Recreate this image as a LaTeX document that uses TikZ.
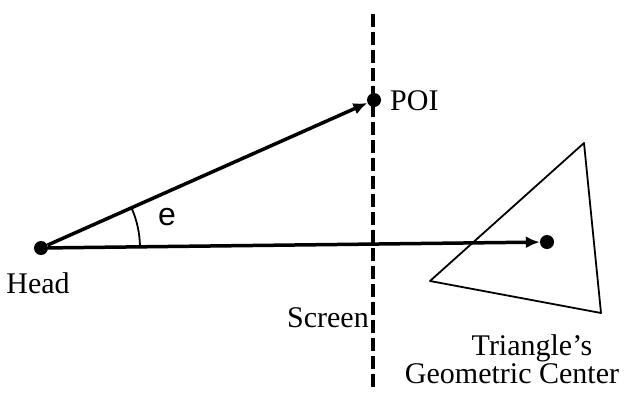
\documentclass[tikz,border=0pt]{standalone}
\usepackage{fontspec}
\setmainfont{Liberation Serif}
\newfontfamily\anglefont{Liberation Sans}
\usepackage{tikz}
\usetikzlibrary{arrows.meta}

\tikzset{
    dot/.style={circle, fill=black, inner sep=0pt, minimum size=14pt},
    ray/.style={line width=3.5pt, -{Latex[length=14pt, width=12pt]}},
    lbl/.style={font=\fontsize{30}{32}\selectfont, inner sep=0pt}
}

\begin{document}
\begin{tikzpicture}[x=1pt, y=-1pt]
    \useasboundingbox (0,0) rectangle (626,392);

    % Screen
    \draw[line width=3.5pt, dash pattern=on 13pt off 5pt] (373,14) -- (373,388);
    \node[lbl, anchor=south east] (screen) at (369,328) {Screen};

    % Points
    \node[dot] (head) at (41,248) {};
    \node[dot] (poi) at (374,100) {};
    \node[dot] (center) at (547,242) {};

    % Triangle
    \draw[line width=1.8pt, line join=round] (584,143) -- (430,281) -- (601,313) -- cycle;

    % Rays
    \draw[ray] (head) -- (poi);
    \draw[ray] (head) -- (center);

    % Angle
    \draw[line width=1.8pt] ([shift={(-0.7:99)}]head.center) arc[start angle=-0.7, end angle=-24, radius=99];
    \node[font=\anglefont\fontsize{32}{34}\selectfont, inner sep=0pt] (e) at (167,217) {e};

    % Labels
    \node[lbl, anchor=north] (headlbl) at (38,272) {Head};
    \node[lbl, anchor=west] (poilbl) at (390,101) {POI};
    \node[lbl, anchor=base] (tri) at (532,355) {Triangle's};
    \node[lbl, anchor=base] (geo) at (512,383) {Geometric Center};
\end{tikzpicture}
\end{document}
